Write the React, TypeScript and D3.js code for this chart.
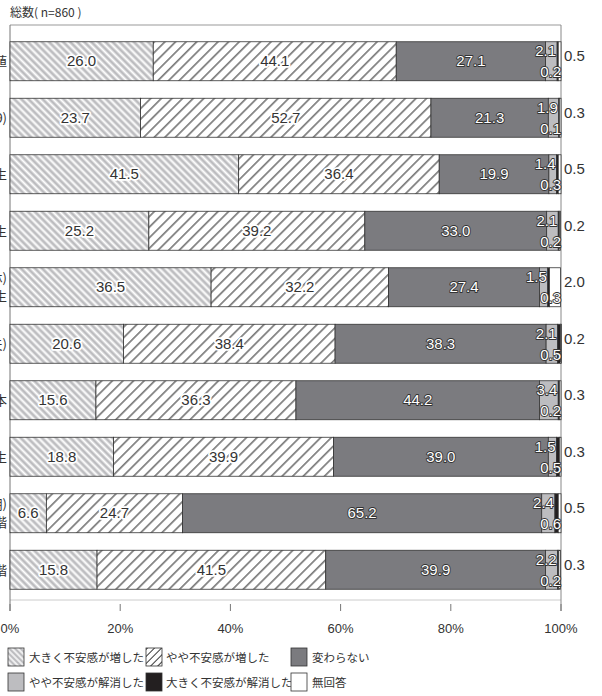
import * as d3 from "d3";

// row labels (the source image is cropped on the left, so only fragments show)
const categories = [
  "全体平均値",
  "20歳代以下(〜29)",
  "会社員・学生",
  "公務員・学生",
  "自営業(農林)\n学生",
  "専業主婦(夫)",
  "パート・本",
  "無職・学生",
  "その他(不明)\n段階",
  "最終段階",
];
const seriesNames = [
  "大きく不安感が増した",
  "やや不安感が増した",
  "変わらない",
  "やや不安感が解消した",
  "大きく不安感が解消した",
  "無回答",
];
const bigIncrease = [26.0, 23.7, 41.5, 25.2, 36.5, 20.6, 15.6, 18.8, 6.6, 15.8];
const someIncrease = [44.1, 52.7, 36.4, 39.2, 32.2, 38.4, 36.3, 39.9, 24.7, 41.5];
const noChange = [27.1, 21.3, 19.9, 33.0, 27.4, 38.3, 44.2, 39.0, 65.2, 39.9];
const someRelief = [2.1, 1.9, 1.4, 2.1, 1.5, 2.1, 3.4, 1.5, 2.4, 2.2];
const bigRelief = [0.2, 0.1, 0.3, 0.2, 0.3, 0.5, 0.2, 0.5, 0.6, 0.2];
const noAnswer = [0.5, 0.3, 0.5, 0.2, 2.0, 0.2, 0.3, 0.3, 0.5, 0.3];
const ticks = [0, 20, 40, 60, 80, 100];

const series = [bigIncrease, someIncrease, noChange, someRelief, bigRelief, noAnswer];
const fills = ["url(#pBig)", "url(#pSome)", "#7b7b7f", "#bdbdc0", "#231f20", "#ffffff"];
const swatchFills = ["url(#pBigS)", "url(#pSomeS)", "#7b7b7f", "#bdbdc0", "#231f20", "#ffffff"];

const W = 602;
const H = 696;
const FONT = "'Liberation Sans', Arial, 'Noto Sans CJK JP', sans-serif";
const JP = "'Noto Sans CJK JP', 'Liberation Sans', sans-serif";

export default function App() {
  const x = d3.scaleLinear().domain([0, 100]).range([10, 561]);
  const y = d3
    .scaleBand()
    .domain(categories.map((_, i) => String(i)))
    .range([33, 598])
    .paddingInner(0.31)
    .paddingOuter(0.155);
  const bh = y.bandwidth();

  const rows = categories.map((c, i) => {
    let acc = 0;
    const segs = series.map((s, k) => {
      const v = s[i];
      const seg = { k, x0: acc, x1: acc + v, v };
      acc += v;
      return seg;
    });
    return { c, i, segs };
  });

  const legend = seriesNames.map((name, k) => ({
    name,
    k,
    col: k % 3,
    row: Math.floor(k / 3),
  }));
  const legendX = [8, 146, 291];
  const legendTextX = [29, 166, 312];
  const legendY = [648, 673];

  const halo = {
    stroke: "#333",
    strokeWidth: 1.8,
    paintOrder: "stroke",
    strokeLinejoin: "round" as const,
  };

  return (
    <svg
      width={W}
      height={H}
      style={{ position: "absolute", left: 0, top: 0, background: "#fff" }}
      fontFamily={FONT}
    >
      <defs>
        <pattern id="pBig" patternUnits="userSpaceOnUse" width={5} height={5} patternTransform="rotate(-45)">
          <rect width={5} height={5} fill="#bdbdc0" />
          <line x1={2.5} y1={0} x2={2.5} y2={5} stroke="#fff" strokeWidth={2.1} />
        </pattern>
        <pattern id="pSome" patternUnits="userSpaceOnUse" width={7.5} height={7.5} patternTransform="rotate(45)">
          <rect width={7.5} height={7.5} fill="#fff" />
          <line x1={3.7} y1={0} x2={3.7} y2={7.5} stroke="#222" strokeWidth={1} />
        </pattern>
        <pattern id="pBigS" patternUnits="userSpaceOnUse" width={4} height={4} patternTransform="rotate(-45)">
          <rect width={4} height={4} fill="#bdbdc0" />
          <line x1={2} y1={0} x2={2} y2={4} stroke="#fff" strokeWidth={1.5} />
        </pattern>
        <pattern id="pSomeS" patternUnits="userSpaceOnUse" width={5} height={5} patternTransform="rotate(45)">
          <rect width={5} height={5} fill="#fff" />
          <line x1={2.5} y1={0} x2={2.5} y2={5} stroke="#222" strokeWidth={0.9} />
        </pattern>
      </defs>

      <text x={10} y={17} fontSize={12} fill="#333" fontFamily={JP}>
        総数( n=860 )
      </text>

      {/* frame */}
      <line x1={10} x2={561} y1={25} y2={25} stroke="#999" />
      <line x1={10} x2={561} y1={600} y2={600} stroke="#ccc" />
      <line x1={10} x2={10} y1={25} y2={611} stroke="#777" />
      <line x1={561} x2={561} y1={25} y2={611} stroke="#888" />
      {ticks.map((t) => (
        <g key={t}>
          <line x1={x(t)} x2={x(t)} y1={604} y2={611} stroke="#777" />
          <text x={x(t)} y={633} fontSize={13} fill="#333" textAnchor="middle">
            {t}%
          </text>
        </g>
      ))}

      {rows.map((r) => {
        const y0 = y(String(r.i)) as number;
        const cy = y0 + bh / 2;
        const lines = r.c.split("\n");
        return (
          <g key={r.i}>
            {lines.map((ln, li) => (
              <text
                key={li}
                x={7}
                y={cy + 5 + (li - (lines.length - 1) / 2) * 18}
                fontSize={13}
                fill="#333"
                textAnchor="end"
                fontFamily={JP}
              >
                {ln}
              </text>
            ))}
            {r.segs.map((s) => (
              <rect
                key={s.k}
                x={x(s.x0)}
                y={y0}
                width={Math.max(0, x(s.x1) - x(s.x0))}
                height={bh}
                fill={fills[s.k]}
                stroke="#333"
                strokeWidth={0.8}
              />
            ))}
            {r.segs.slice(0, 3).map((s) => (
              <text
                key={"t" + s.k}
                x={x((s.x0 + s.x1) / 2)}
                y={cy + 5}
                fontSize={15}
                textAnchor="middle"
                fill={s.k === 2 ? "#fff" : "#333"}
                stroke={s.k === 2 ? "#333" : "#fff"}
                strokeWidth={s.k === 2 ? 1.8 : 3.5}
                paintOrder="stroke"
                strokeLinejoin="round"
              >
                {s.v.toFixed(1)}
              </text>
            ))}
            <text x={x(r.segs[3].x1) - 1} y={cy - 5} fontSize={15} textAnchor="end" fill="#fff" {...halo}>
              {r.segs[3].v.toFixed(1)}
            </text>
            <text x={x(100)} y={cy + 16} fontSize={15} textAnchor="end" fill="#fff" {...halo}>
              {r.segs[4].v.toFixed(1)}
            </text>
            <text x={x(100) + 3} y={cy} fontSize={15} fill="#333">
              {r.segs[5].v.toFixed(1)}
            </text>
          </g>
        );
      })}

      {legend.map((l) => (
        <g key={l.k}>
          <rect
            x={legendX[l.col]}
            y={legendY[l.row]}
            width={16}
            height={18}
            fill={swatchFills[l.k]}
            stroke="#333"
            strokeWidth={0.8}
          />
          <text
            x={legendTextX[l.col]}
            y={legendY[l.row] + 14}
            fontSize={11.5}
            fill="#333"
            fontFamily={JP}
          >
            {l.name}
          </text>
        </g>
      ))}
    </svg>
  );
}
